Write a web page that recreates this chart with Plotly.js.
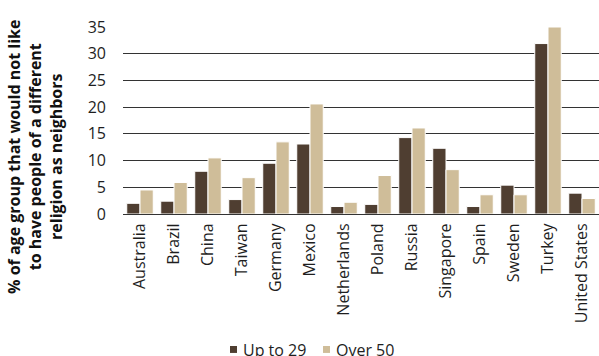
<!DOCTYPE html>
<html>
<head>
<meta charset="utf-8">
<script src="https://cdn.plot.ly/plotly-3.0.1.min.js"></script>
<style>
  html, body { margin: 0; padding: 0; background: #fff; }
  #chart { width: 599px; height: 356px; }
</style>
</head>
<body>
<div id="chart"></div>
<script>
// Share of each age group that would not like neighbours of a different religion (%)
const countries = ["Australia", "Brazil", "China", "Taiwan", "Germany", "Mexico", "Netherlands",
                   "Poland", "Russia", "Singapore", "Spain", "Sweden", "Turkey", "United States"];
const upTo29 = [2.0, 2.4, 8.0, 2.7, 9.5, 13.1, 1.4, 1.8, 14.3, 12.3, 1.4, 5.4, 31.9, 3.9];
const over50 = [4.5, 5.9, 10.5, 6.8, 13.5, 20.6, 2.2, 7.2, 16.1, 8.3, 3.6, 3.6, 35.0, 2.9];
const yTicks = [0, 5, 10, 15, 20, 25, 30, 35];
const seriesNames = ["Up to 29", "Over 50"];

const FONT = "'Open Sans', 'Noto Sans', sans-serif";
const DARK = "#4f3e31";
const TAN = "#cfbd99";
const TEXT = "#1e1e1e";

const traces = [
  {
    type: "bar", name: seriesNames[0], x: countries, y: upTo29,
    marker: { color: DARK, line: { color: "#ffffff", width: 1 } },
    hoverinfo: "skip", showlegend: false
  },
  {
    type: "bar", name: seriesNames[1], x: countries, y: over50,
    marker: { color: TAN, line: { color: "#ffffff", width: 1 } },
    hoverinfo: "skip", showlegend: false
  }
];

// Legend drawn below the axis: small square swatch + series name
function legendItem(x0, color, label) {
  return {
    shape: {
      type: "rect", xref: "paper", yref: "paper",
      x0: x0, x1: x0 + 0.0147, y0: -0.743, y1: -0.706,
      fillcolor: color, line: { width: 0 }
    },
    note: {
      text: label, xref: "paper", yref: "paper", x: x0 + 0.0252, y: -0.7246,
      xanchor: "left", yanchor: "middle", showarrow: false, borderpad: 0,
      font: { family: FONT, size: 16, color: TEXT }
    }
  };
}
const leg1 = legendItem(0.2248, DARK, seriesNames[0]);
const leg2 = legendItem(0.4202, TAN, seriesNames[1]);

const layout = {
  width: 599, height: 356,
  margin: { l: 123, r: 0, t: 27, b: 142, pad: 0, autoexpand: false },
  paper_bgcolor: "#ffffff", plot_bgcolor: "#ffffff",
  font: { family: FONT, size: 16, color: TEXT },
  barmode: "group", bargap: 0.22, bargroupgap: 0,
  showlegend: false,
  xaxis: {
    type: "category", tickangle: -90, ticks: "", showgrid: false,
    showline: true, linecolor: "#333333", linewidth: 1, layer: "below traces",
    ticklabelstandoff: 2,
    tickfont: { family: FONT, size: 16, color: TEXT }, automargin: false
  },
  yaxis: {
    range: [0, 35], tickvals: yTicks, ticktext: yTicks.map(String),
    showgrid: true, gridcolor: "#333333", gridwidth: 1, zeroline: false,
    showline: false, ticks: "", ticklabelstandoff: 16,
    tickfont: { family: FONT, size: 16, color: TEXT }, automargin: false
  },
  shapes: [leg1.shape, leg2.shape],
  annotations: [
    {
      text: "<b>% of age group that would not like<br>to have people of a different<br>religion as neighbors</b>",
      xref: "paper", yref: "paper", x: -0.185, y: 0.305,
      xanchor: "center", yanchor: "middle", textangle: -90, showarrow: false,
      font: { family: FONT, size: 16, color: "#111111" }, align: "center"
    },
    leg1.note, leg2.note
  ]
};

Plotly.newPlot("chart", traces, layout, { staticPlot: true, displayModeBar: false });
</script>
</body>
</html>
